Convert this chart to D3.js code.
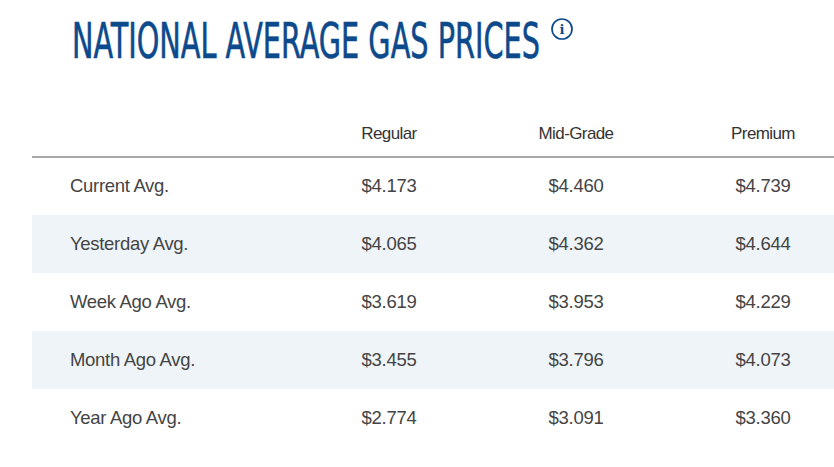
<!DOCTYPE html><html><head><meta charset="utf-8"><script src="https://cdn.jsdelivr.net/npm/d3@7"></script>
<style>body{margin:0;background:#fff}</style></head><body><svg id="c" width="834" height="467"></svg>
<script>
const rowLabels=["Current Avg.","Yesterday Avg.","Week Ago Avg.","Month Ago Avg.","Year Ago Avg."];
const grades=["Regular","Mid-Grade","Premium"];
const regular=[4.173,4.065,3.619,3.455,2.774];
const midGrade=[4.460,4.362,3.953,3.796,3.091];
const premium=[4.739,4.644,4.229,4.073,3.360];
const series=[regular,midGrade,premium];
const svg=d3.select("#c");
const y=d3.scaleBand().domain(d3.range(rowLabels.length)).range([157,447]);
const x=d3.scalePoint().domain(grades).range([389,763]);
const tg=svg.append("g");
const title=tg.append("text").attr("x",0).attr("y",0).attr("fill","#0d4a8c")
 .attr("font-family","DejaVu Sans Condensed, DejaVu Sans, sans-serif").attr("font-size",49)
 .attr("stroke","#0d4a8c").attr("stroke-width",0.6)
 .text("NATIONAL AVERAGE GAS PRICES");
const tw=title.node().getComputedTextLength();
tg.attr("transform",`translate(72,58) scale(${468/tw},1)`);
const ic=svg.append("g").attr("transform","translate(562,29)");
ic.append("circle").attr("r",10).attr("fill","none").attr("stroke","#0d4a8c").attr("stroke-width",1.7);
ic.append("text").attr("y",5).attr("text-anchor","middle").attr("font-family","DejaVu Serif").attr("font-weight","bold").attr("font-size",13).attr("fill","#0d4a8c").text("i");
svg.selectAll("rect.band").data(d3.range(rowLabels.length).filter(i=>i%2==1)).join("rect")
 .attr("x",32).attr("width",802).attr("y",i=>y(i)).attr("height",y.bandwidth()).attr("fill","#eff4f8");
svg.append("line").attr("x1",32).attr("x2",834).attr("y1",157).attr("y2",157).attr("stroke","#555").attr("stroke-width",1.2);
const font="Liberation Sans, Arial, sans-serif";
svg.selectAll("text.h").data(grades).join("text").attr("x",d=>x(d)).attr("y",139).attr("text-anchor","middle")
 .attr("font-family",font).attr("font-size",17).attr("fill","#333").attr("letter-spacing",-0.6).text(d=>d);
svg.selectAll("text.r").data(rowLabels).join("text").attr("x",70).attr("y",(d,i)=>y(i)+y.bandwidth()/2+6)
 .attr("font-family",font).attr("font-size",18.5).attr("fill","#444").attr("letter-spacing",-0.3).text(d=>d);
series.forEach((s,j)=>{svg.selectAll(null).data(s).join("text").attr("x",x(grades[j])).attr("y",(d,i)=>y(i)+y.bandwidth()/2+6)
 .attr("text-anchor","middle").attr("font-family",font).attr("font-size",18.5).attr("fill","#444").attr("letter-spacing",-0.3).text(d=>"$"+d.toFixed(3));});
</script></body></html>
